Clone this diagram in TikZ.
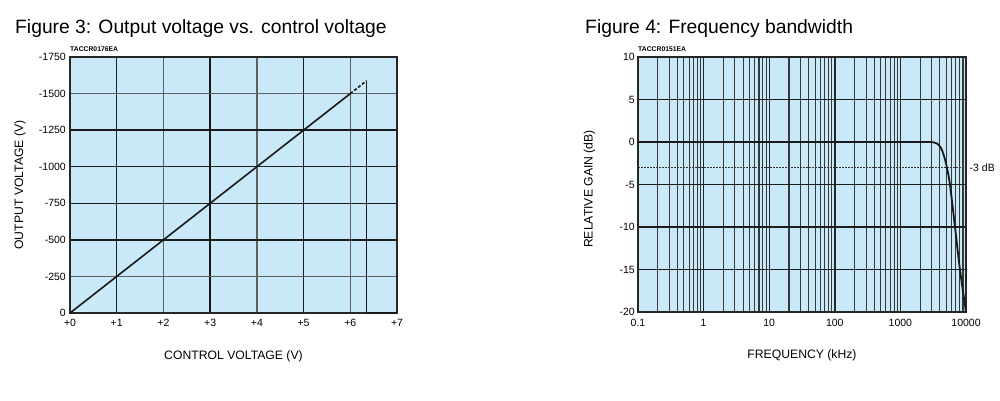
\documentclass[tikz,border=0pt]{standalone}
\usepackage{fontspec}
\setmainfont{Liberation Sans}
\definecolor{plotbg}{RGB}{201,233,248}
\definecolor{griddark}{RGB}{30,30,30}
\definecolor{gridlight}{RGB}{95,95,95}
\begin{document}
\begin{tikzpicture}[x=1pt,y=-1pt,
  title/.style={anchor=base west, inner sep=0pt, font=\fontsize{19.3}{22}\selectfont},
  codelbl/.style={anchor=base west, inner sep=0pt, font=\bfseries\fontsize{6.8}{8}\selectfont},
  ytick/.style={anchor=east, inner sep=0pt, font=\fontsize{10.5}{12}\selectfont},
  xtick/.style={anchor=base, inner sep=0pt, font=\fontsize{10.5}{12}\selectfont},
  axlabel/.style={inner sep=0pt, font=\fontsize{12.2}{14}\selectfont},
  griddk/.style={draw=griddark, line width=1.4pt},
  gridlt/.style={draw=gridlight, line width=1.4pt},
  gridthick/.style={draw=black!90, line width=2.1pt},
  frame/.style={draw=black!85, line width=1.7pt},
  curve/.style={draw=black!90, line width=1.6pt},
  minorv/.style={draw=black!78, line width=1.1pt},
  majorv/.style={draw=black!85, line width=1.4pt}
]
\useasboundingbox (0,0) rectangle (1000,400);

% ===================== Figure 3 =====================
\node[title] (t3) at (15,33) {Figure 3: Output voltage vs. control voltage};
\node[codelbl] (c3) at (70,51.5) {TACCR0176EA};
\fill[plotbg] (70,57) rectangle (397,313);
% vertical grid
\foreach \v/\s in {1/griddk,2/gridlt,4/gridlt,5/griddk,6/gridlt}
  \draw[\s] ({70+46.714*\v},57) -- ({70+46.714*\v},313);
\draw[gridthick] ({70+46.714*3},57) -- ({70+46.714*3},313);
% horizontal grid
\foreach \val/\s in {250/gridlt,500/griddk,750/griddk,1000/griddk,1500/gridlt}
  \draw[\s] (70,{313-0.146286*\val}) -- (397,{313-0.146286*\val});
\draw[gridthick] (70,{313-0.146286*1250}) -- (397,{313-0.146286*1250});
\draw[frame] (70,57) rectangle (397,313);
% characteristic
\coordinate (p0) at (70,313);
\coordinate (p6) at (350.3,93.6);
\coordinate (pe) at (366.6,80.7);
\coordinate (pb) at (366.6,313);
\coordinate (pr) at (397,313);
\draw[curve] (p0) -- (p6);
\draw[curve,dash pattern=on 3pt off 2pt] (p6) -- (pe);
\draw[curve] (pe) -- (pb);
\draw[draw=black!90, line width=2.3pt] (pb) -- (pr);
% ticks
\foreach \val/\lab in {0/0,250/-250,500/-500,750/-750,1000/-1000,1250/-1250,1500/-1500,1750/-1750}
  \node[ytick] (ly\val) at (66,{313-0.146286*\val}) {\lab};
\foreach \v in {0,...,7}
  \node[xtick] (lx\v) at ({70+46.714*\v},326) {+\v};
\node[axlabel, anchor=base] (xl3) at (233.5,359) {CONTROL VOLTAGE (V)};
\node[axlabel, rotate=90] (yl3) at (20,185) {OUTPUT VOLTAGE (V)};

% ===================== Figure 4 =====================
\node[title] (t4) at (585,33) {Figure 4: Frequency bandwidth};
\node[codelbl] (c4) at (638,51.5) {TACCR0151EA};
\fill[plotbg] (638,57) rectangle (966,312);
% vertical log grid
\foreach \d in {0,...,4}
  \foreach \m in {2,...,9}
    \draw[minorv] ({638+65.6*(\d+log10(\m))},57) -- ({638+65.6*(\d+log10(\m))},312);
\foreach \d in {1,...,4}
  \draw[majorv] ({638+65.6*\d},57) -- ({638+65.6*\d},312);
% horizontal grid
\foreach \db in {5,-5,-10,-15}
  \draw[griddk, line width=1.3pt] (638,{57+8.5*(10-\db)}) -- (966,{57+8.5*(10-\db)});
% -3 dB reference
\draw[black!80, line width=0.9pt, dash pattern=on 1.5pt off 1.5pt] (638,167.5) -- (966,167.5);
\draw[frame] (638,57) rectangle (966,312);
% response
\draw[curve, line width=1.8pt] (638,142) -- (928,142)
  plot[smooth, tension=0.55] coordinates {(928,142) (933,142.2) (937,143.5) (941,148) (944,156) (947,168) (950,185) (955,227) (960,270) (966,312)};
% ticks
\foreach \db in {10,5,0,-5,-10,-15,-20}
  \node[ytick] (ry\db) at (635,{57+8.5*(10-\db)}) {\db};
\foreach \d/\lab in {0/0.1,1/1,2/10,3/100,4/1000,5/10000}
  \node[xtick] (rx\d) at ({638+65.6*\d},326) {\lab};
\node[anchor=west, inner sep=0pt, font=\fontsize{10.5}{12}\selectfont] (m3) at (969.5,168) {-3 dB};
\node[axlabel, anchor=base] (xl4) at (802,358) {FREQUENCY (kHz)};
\node[axlabel, rotate=90] (yl4) at (589.5,189) {RELATIVE GAIN (dB)};
\end{tikzpicture}
\end{document}
